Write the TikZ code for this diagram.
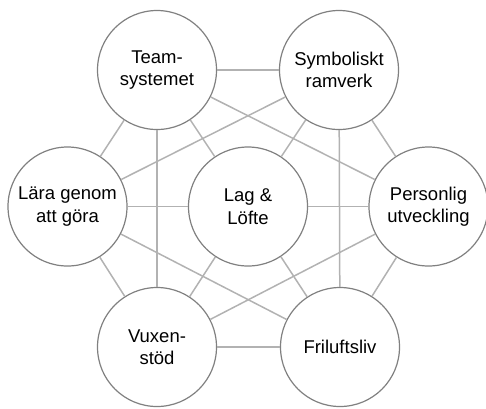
\documentclass[tikz,border=0pt]{standalone}
\usepackage{fontspec}
\setmainfont{Liberation Sans}
\usetikzlibrary{positioning}
\tikzstyle{pillar} = [circle, draw=black!50, line width=1.2pt, fill=white, text centered, align=center, minimum size=119pt, inner sep=0pt, font=\fontsize{18.5}{22.5}\selectfont]
\tikzstyle{link} = [line width=1.5pt, draw=black!30]

\begin{document}
\begin{tikzpicture}[x=1pt, y=1pt]
        \useasboundingbox (0,0) rectangle (486,-408);
        \node (lag) [pillar] at (248,-206.5) {Lag \& \\ Löfte};
        \node (team) [pillar, above of = lag, node distance = 136.5pt, xshift = -91pt] {Team- \\ systemet};
        \node (symb) [pillar, above of = lag, node distance = 136.5pt, xshift = 91pt] {Symboliskt \\ ramverk};
        \node (lara) [pillar, left of = lag, node distance = 180.5pt] {Lära genom \\ att göra};
        \node (pers) [pillar, right of = lag, node distance = 180.5pt] {Personlig \\ utveckling};
        \node (vux) [pillar, below of = lag, node distance = 140.5pt, xshift = -91pt] {Vuxen- \\ stöd};
        \node (fril) [pillar, below of = lag, node distance = 140.5pt, xshift = 92pt] {Friluftsliv};
        \draw [link] (team) -- (symb);
        \draw [link] (team) -- (lara);
        \draw [link] (team) -- (lag);
        \draw [link] (team) -- (vux);
        \draw [link] (team) -- (pers);
        \draw [link] (symb) -- (lara);
        \draw [link] (symb) -- (lag);
        \draw [link] (symb) -- (pers);
        \draw [link] (symb) -- (fril);
        \draw [link] (lara) -- (lag);
        \draw [link] (lara) -- (vux);
        \draw [link] (lara) -- (fril);
        \draw [link] (lag) -- (pers);
        \draw [link] (lag) -- (vux);
        \draw [link] (lag) -- (fril);
        \draw [link] (pers) -- (vux);
        \draw [link] (pers) -- (fril);
        \draw [link] (vux) -- (fril);
    \end{tikzpicture}
\end{document}
